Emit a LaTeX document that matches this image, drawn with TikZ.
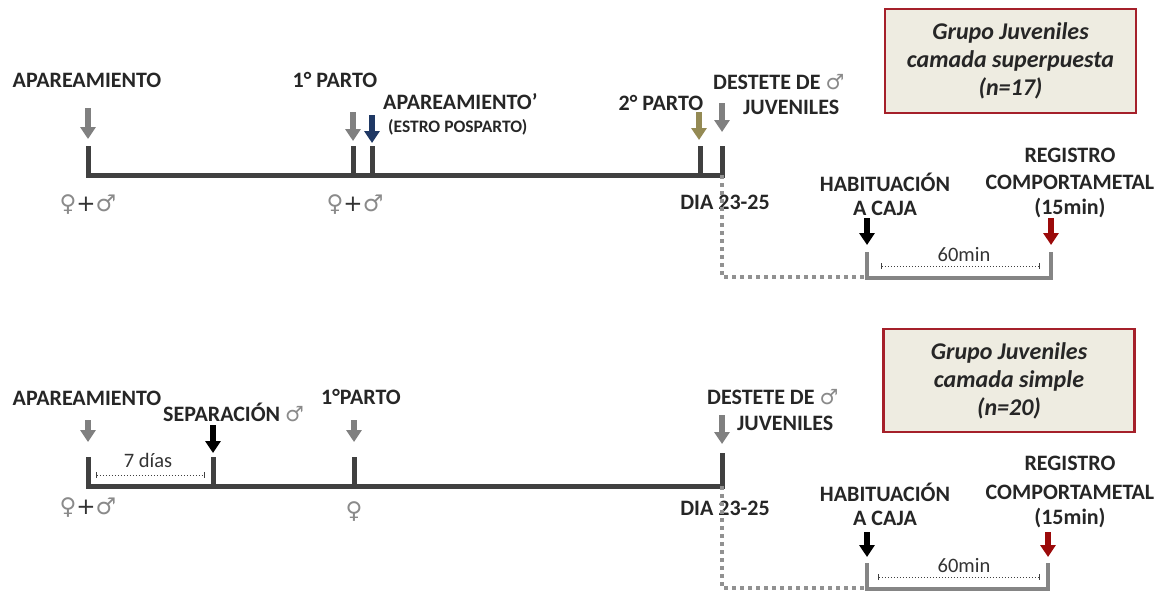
\documentclass[tikz,border=0pt]{standalone}
\usepackage{fontspec}
\setmainfont{Carlito}
\newfontfamily\symfont{DejaVu Sans}
\usetikzlibrary{arrows.meta}
\definecolor{tline}{HTML}{404040}
\definecolor{garrow}{HTML}{808080}
\definecolor{barrow}{HTML}{1F3864}
\definecolor{oarrow}{HTML}{948A54}
\definecolor{rarrow}{HTML}{9B0A0A}
\definecolor{boxfill}{HTML}{EEECE1}
\definecolor{boxline}{HTML}{A5202A}
\definecolor{brk}{HTML}{858585}
\definecolor{sym}{HTML}{8A8A8A}
\tikzset{
  lbl/.style={font=\fontsize{22}{24}\selectfont\bfseries, text=black!85, inner sep=0pt},
  small/.style={font=\fontsize{17.5}{19}\selectfont\bfseries, text=black!85, inner sep=0pt},
  plain/.style={font=\fontsize{20.5}{22}\selectfont, text=black!80, inner sep=0pt},
  gender/.style={font=\symfont\fontsize{23}{25}\selectfont, text=sym, inner sep=0pt},
  timeline/.style={draw=tline, line width=5pt},
  evarrow/.style={line width=6pt, -{Triangle[width=15pt,length=12pt]}},
  dotline/.style={draw=brk!90, line width=4pt, dash pattern=on 4pt off 4pt},
  bracket/.style={draw=brk, line width=4pt},
  dim/.style={draw=black!75, line width=1pt, dotted, {|[width=6pt]}-{|[width=6pt]}},
  groupbox/.style={draw=boxline, line width=2.5pt, fill=boxfill, minimum width=251pt,
     align=center, font=\fontsize{24}{28}\selectfont\bfseries\itshape, text=black!85},
}
\newcommand{\M}{{\symfont\color{sym}\fontsize{21}{22}\selectfont ♂}}
\begin{document}
\begin{tikzpicture}[x=1pt,y=-1pt]
\useasboundingbox (0,0) rectangle (1159,592);

% ================= TOP =================
\coordinate (t1a) at (88,146);  \coordinate (t1b) at (88,175);
\coordinate (t1e) at (722,175); \coordinate (t1f) at (722,146);
\coordinate (p1a) at (353,146); \coordinate (p1b) at (353,175);
\coordinate (m2a) at (372,146); \coordinate (m2b) at (372,175);
\coordinate (p2a) at (700,146); \coordinate (p2b) at (700,175);
\draw[timeline, line join=miter] (t1a) -- (t1b) -- (t1e) -- (t1f);
\draw[timeline] (p1a) -- (p1b);
\draw[timeline] (m2a) -- (m2b);
\draw[timeline] (p2a) -- (p2b);

\coordinate (a1s) at (88,108);  \coordinate (a1e) at (88,139);
\coordinate (a2s) at (353,112); \coordinate (a2e) at (353,141);
\coordinate (a3s) at (372,115); \coordinate (a3e) at (372,143);
\coordinate (a4s) at (699,112); \coordinate (a4e) at (699,140);
\coordinate (a5s) at (722,103); \coordinate (a5e) at (722,132);
\draw[evarrow, garrow] (a1s) -- (a1e);
\draw[evarrow, garrow] (a2s) -- (a2e);
\draw[evarrow, barrow] (a3s) -- (a3e);
\draw[evarrow, oarrow] (a4s) -- (a4e);
\draw[evarrow, garrow] (a5s) -- (a5e);

\node[lbl] (apa1) at (87,80) {APAREAMIENTO};
\node[lbl] (par1) at (335,80) {1° PARTO};
\node[lbl, anchor=west] (apa2) at (383,102) {APAREAMIENTO’};
\node[small, anchor=west] (estro) at (388,127) {(ESTRO POSPARTO)};
\node[lbl] (par2) at (661,103) {2° PARTO};
\node[lbl, anchor=west] (des1) at (713,82) {DESTETE DE \M};
\node[lbl, anchor=west] (juv1) at (743,107) {JUVENILES};
\node[lbl] (dia1) at (725,202) {DIA 23-25};
\node[gender] (g1) at (88,205) {♀\textcolor{black!80}{+}♂};
\node[gender] (g2) at (355,205) {♀\textcolor{black!80}{+}♂};

\coordinate (d1c) at (722,277); \coordinate (h1b) at (867,277);
\draw[dotline] (t1e) -- (d1c) -- (h1b);
\coordinate (h1t) at (867,252); \coordinate (r1t) at (1051,252);
\coordinate (h1c) at (867,278); \coordinate (r1c) at (1051,278);
\draw[bracket, line join=miter] (h1t) -- (h1c) -- (r1c) -- (r1t);
\coordinate (m1a) at (881,266); \coordinate (m1b) at (1040,266);
\draw[dim] (m1a) -- (m1b);
\node[plain] (min1) at (964,255) {60min};
\coordinate (b1s) at (867,218); \coordinate (b1e) at (867,245);
\coordinate (r1s) at (1051,218); \coordinate (r1e) at (1051,245);
\draw[evarrow, black] (b1s) -- (b1e);
\draw[evarrow, rarrow] (r1s) -- (r1e);
\node[lbl] (hab1) at (885,182) {HABITUACIÓN};
\node[lbl] (caj1) at (885,208) {A CAJA};
\node[lbl] (reg1) at (1070,155) {REGISTRO};
\node[lbl] (com1) at (1070,182) {COMPORTAMETAL};
\node[lbl] (q1) at (1070,208) {(15min)};

\node[groupbox, minimum height=104pt] (box1) at (1010.5,61) {Grupo Juveniles\\camada superpuesta\\(n=17)};

% ================= BOTTOM =================
\coordinate (s1a) at (88,457);  \coordinate (s1b) at (88,486);
\coordinate (s1e) at (722,486); \coordinate (s1f) at (722,453);
\coordinate (spa) at (213,457); \coordinate (spb) at (213,486);
\coordinate (sp1a) at (354,457); \coordinate (sp1b) at (354,486);
\draw[timeline, line join=miter] (s1a) -- (s1b) -- (s1e) -- (s1f);
\draw[timeline] (spa) -- (spb);
\draw[timeline] (sp1a) -- (sp1b);

\coordinate (c1s) at (88,420);  \coordinate (c1e) at (88,442);
\coordinate (c2s) at (213,425); \coordinate (c2e) at (213,453);
\coordinate (c3s) at (354,420); \coordinate (c3e) at (354,442);
\coordinate (c4s) at (722,415); \coordinate (c4e) at (722,444);
\draw[evarrow, garrow] (c1s) -- (c1e);
\draw[evarrow, black] (c2s) -- (c2e);
\draw[evarrow, garrow] (c3s) -- (c3e);
\draw[evarrow, garrow] (c4s) -- (c4e);

\node[lbl] (apa3) at (87,398) {APAREAMIENTO};
\node[lbl, anchor=west] (sep) at (163,412) {SEPARACIÓN \M};
\node[lbl] (par3) at (361,397) {1°PARTO};
\node[lbl, anchor=west] (des2) at (707,397) {DESTETE DE \M};
\node[lbl, anchor=west] (juv2) at (737,423) {JUVENILES};
\node[lbl] (dia2) at (725,508) {DIA 23-25};
\coordinate (w1a) at (96,475); \coordinate (w1b) at (205,475);
\draw[dim] (w1a) -- (w1b);
\node[plain] (dias) at (148,460) {7 días};
\node[gender] (g3) at (88,508) {♀\textcolor{black!80}{+}♂};
\node[gender] (g4) at (354,512) {♀};

\coordinate (d2c) at (722,588); \coordinate (h2b) at (867,588);
\draw[dotline] (s1e) -- (d2c) -- (h2b);
\coordinate (h2t) at (867,563); \coordinate (r2t) at (1048,563);
\coordinate (h2c) at (867,589); \coordinate (r2c) at (1048,589);
\draw[bracket, line join=miter] (h2t) -- (h2c) -- (r2c) -- (r2t);
\coordinate (m2a') at (878,577); \coordinate (m2b') at (1040,577);
\draw[dim] (m2a') -- (m2b');
\node[plain] (min2) at (964,566) {60min};
\coordinate (b2s) at (867,532); \coordinate (b2e) at (867,557);
\coordinate (r2s) at (1048,532); \coordinate (r2e) at (1048,557);
\draw[evarrow, black] (b2s) -- (b2e);
\draw[evarrow, rarrow] (r2s) -- (r2e);
\node[lbl] (hab2) at (885,492) {HABITUACIÓN};
\node[lbl] (caj2) at (885,518) {A CAJA};
\node[lbl] (reg2) at (1070,463) {REGISTRO};
\node[lbl] (com2) at (1070,492) {COMPORTAMETAL};
\node[lbl] (q2) at (1070,518) {(15min)};

\node[groupbox, minimum height=103pt] (box2) at (1009,380.5) {Grupo Juveniles\\camada simple\\(n=20)};
\end{tikzpicture}
\end{document}
